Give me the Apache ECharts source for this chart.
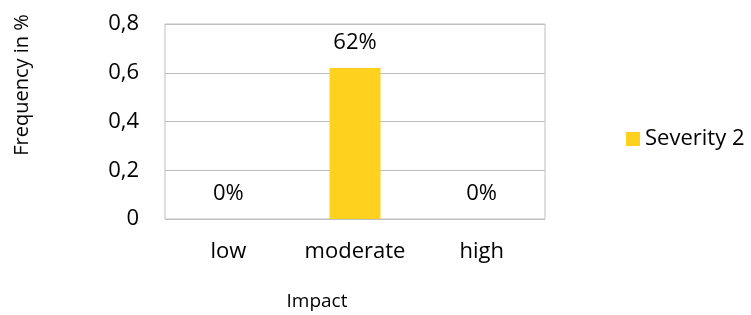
<!DOCTYPE html>
<html>
<head>
    <meta charset="utf-8"/>
    <script src="https://cdn.jsdelivr.net/npm/echarts@6/dist/echarts.min.js"></script>
</head>
<body style="margin:0;background:#fff;">
<div id="main" style="width:751px;height:315px;"></div>
<script type="text/javascript">
    // data
    var categories = ['low', 'moderate', 'high'];
    var severity2 = [0, 0.62, 0];
    var pctLabels = ['0%', '62%', '0%'];
    var yTicks = [0, 0.2, 0.4, 0.6, 0.8];

    var font = '"Open Sans", sans-serif';
    var chart = echarts.init(document.getElementById('main'));

    chart.setOption({
        animation: false,
        textStyle: {fontFamily: font, color: '#000'},
        grid: {
            left: 165, right: 206, top: 24, bottom: 96,
            show: true, borderColor: '#bfbfbf', borderWidth: 1
        },
        legend: {
            data: ['Severity 2'],
            left: 621, top: 123,
            icon: 'rect', itemWidth: 14, itemHeight: 14, itemGap: 8,
            textStyle: {fontFamily: font, fontSize: 22, color: '#000', padding: [0, 0, 0, 0]}
        },
        xAxis: {
            type: 'category',
            data: categories,
            axisLine: {show: false},
            axisTick: {show: false},
            axisLabel: {fontSize: 22, color: '#000', margin: 22, fontFamily: font, interval: 0}
        },
        yAxis: {
            type: 'value',
            min: yTicks[0],
            max: yTicks[yTicks.length - 1],
            interval: 0.2,
            axisLine: {show: false},
            axisTick: {show: false},
            splitLine: {lineStyle: {color: '#bfbfbf', width: 1}},
            axisLabel: {
                fontSize: 22, color: '#000', margin: 26, fontFamily: font,
                formatter: function (v) { return String(+v.toFixed(1)).replace('.', ','); }
            }
        },
        graphic: [
            {
                type: 'text', x: 22, y: 85, rotation: Math.PI / 2,
                style: {text: 'Frequency in %', font: '20px ' + font, fill: '#000',
                    textAlign: 'center', textVerticalAlign: 'middle'}
            },
            {
                type: 'text', x: 317, y: 302,
                style: {text: 'Impact', font: '19px ' + font, fill: '#000',
                    textAlign: 'center', textVerticalAlign: 'middle'}
            }
        ],
        series: [{
            name: 'Severity 2',
            type: 'bar',
            data: severity2,
            barWidth: 51,
            itemStyle: {color: '#ffd11f'},
            label: {
                show: true, position: 'top', distance: 14,
                fontSize: 22, color: '#000', fontFamily: font,
                formatter: function (p) { return pctLabels[p.dataIndex]; }
            }
        }]
    });
</script>
</body>
</html>
